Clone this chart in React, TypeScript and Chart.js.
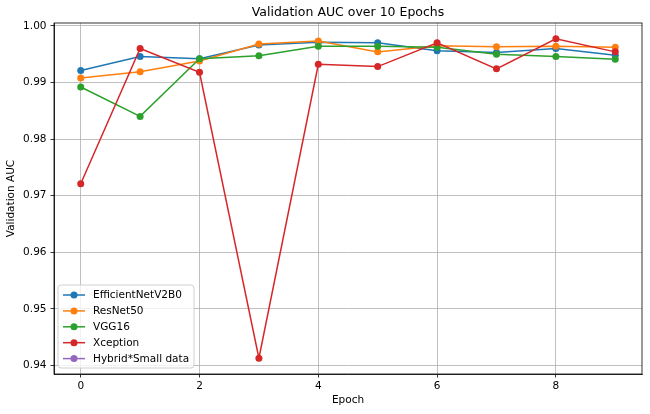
import React, { useRef, useEffect } from 'react';
import { Chart, registerables, Plugin } from 'chart.js';

Chart.register(...registerables);

const epochs = [0, 1, 2, 3, 4, 5, 6, 7, 8, 9];
const efficientNet = [0.9921, 0.9946, 0.9942, 0.9966, 0.9971, 0.997, 0.9956, 0.9953, 0.996, 0.9948];
const resNet = [0.9908, 0.9919, 0.9938, 0.9968, 0.9973, 0.9954, 0.9965, 0.9963, 0.9964, 0.9962];
const vgg = [0.9892, 0.984, 0.9942, 0.9947, 0.9964, 0.9964, 0.9962, 0.995, 0.9946, 0.9941];
const xception = [0.9721, 0.996, 0.9918, 0.9413, 0.9932, 0.9928, 0.997, 0.9924, 0.9977, 0.9954];
const hybrid: number[] = [];

const xTicks = [0, 2, 4, 6, 8];
const yTicks = [0.94, 0.95, 0.96, 0.97, 0.98, 0.99, 1.0];

const seriesNames = ['EfficientNetV2B0', 'ResNet50', 'VGG16', 'Xception', 'Hybrid*Small data'];
const seriesColors = ['#1f77b4', '#ff7f0e', '#2ca02c', '#d62728', '#9467bd'];
const seriesValues = [efficientNet, resNet, vgg, xception, hybrid];

const FONT = '"DejaVu Sans", sans-serif';

// title, spines and the matplotlib-style legend inside the axes
const decorations: Plugin = {
  id: 'decorations',
  afterDraw(chart) {
    const { ctx, chartArea } = chart;
    const { left, right, top, bottom } = chartArea;
    ctx.save();

    ctx.fillStyle = '#000';
    ctx.font = `12.5px ${FONT}`;
    ctx.textAlign = 'center';
    ctx.textBaseline = 'middle';
    ctx.fillText('Validation AUC over 10 Epochs', (left + right) / 2, 13);

    ctx.strokeStyle = '#000';
    ctx.lineWidth = 0.8;
    ctx.strokeRect(left, top, right - left, bottom - top);

    // legend box
    const bx = 58, by = 285, bw = 136, bh = 83, r = 3;
    ctx.beginPath();
    ctx.moveTo(bx + r, by);
    ctx.arcTo(bx + bw, by, bx + bw, by + bh, r);
    ctx.arcTo(bx + bw, by + bh, bx, by + bh, r);
    ctx.arcTo(bx, by + bh, bx, by, r);
    ctx.arcTo(bx, by, bx + bw, by, r);
    ctx.closePath();
    ctx.fillStyle = 'rgba(255,255,255,0.8)';
    ctx.fill();
    ctx.strokeStyle = '#d0d0d0';
    ctx.lineWidth = 1;
    ctx.stroke();

    ctx.font = `10.5px ${FONT}`;
    ctx.textAlign = 'left';
    seriesNames.forEach((name, i) => {
      const y = 295 + i * 15.9;
      ctx.strokeStyle = seriesColors[i];
      ctx.lineWidth = 1.5;
      ctx.beginPath();
      ctx.moveTo(63, y);
      ctx.lineTo(85, y);
      ctx.stroke();
      ctx.fillStyle = seriesColors[i];
      ctx.beginPath();
      ctx.arc(74, y, 3.5, 0, Math.PI * 2);
      ctx.fill();
      ctx.fillStyle = '#000';
      ctx.fillText(name, 93, y + 0.5);
    });
    ctx.restore();
  },
};

export default function App() {
  const chartRef = useRef<HTMLCanvasElement>(null);
  const chartInstanceRef = useRef<Chart | null>(null);

  useEffect(() => {
    document.body.style.margin = '0';
    if (!chartRef.current) return;
    if (chartInstanceRef.current) {
      chartInstanceRef.current.destroy();
    }
    const ctx = chartRef.current.getContext('2d');
    if (!ctx) return;

    const datasets = seriesNames.map((name, i) => ({
      label: name,
      data: seriesValues[i].map((v, j) => ({ x: epochs[j], y: v })),
      borderColor: seriesColors[i],
      backgroundColor: seriesColors[i],
      pointBackgroundColor: seriesColors[i],
      pointBorderColor: seriesColors[i],
      borderWidth: 1.5,
      pointRadius: 3.5,
      pointBorderWidth: 0,
      tension: 0,
      order: 5 - i,
    }));

    const tickFont = { family: FONT, size: 10.5 };

    chartInstanceRef.current = new Chart(ctx, {
      type: 'line',
      data: { datasets },
      plugins: [decorations],
      options: {
        animation: false,
        responsive: false,
        layout: { padding: { top: 23, right: 8, left: 0, bottom: 0 } },
        plugins: {
          legend: { display: false },
          title: { display: false },
          tooltip: { enabled: false },
        },
        scales: {
          x: {
            type: 'linear',
            min: -0.45,
            max: 9.45,
            afterBuildTicks: (scale) => {
              scale.ticks = xTicks.map((v) => ({ value: v }));
            },
            afterFit: (scale) => {
              scale.height = 40;
            },
            ticks: {
              font: tickFont,
              color: '#000',
              padding: 2,
              maxRotation: 0,
              callback: (v) => String(v),
            },
            grid: {
              color: '#b0b0b0',
              lineWidth: 0.8,
              tickLength: 3.5,
              tickColor: '#000',
              tickWidth: 0.8,
            },
            border: { display: true, color: '#000', width: 0.8 },
            title: {
              display: true,
              text: 'Epoch',
              font: tickFont,
              color: '#000',
              padding: { top: 0, bottom: 7 },
            },
          },
          y: {
            type: 'linear',
            min: 0.9385,
            max: 1.0005,
            afterBuildTicks: (scale) => {
              scale.ticks = yTicks.map((v) => ({ value: v }));
            },
            afterFit: (scale) => {
              scale.width = 54;
            },
            ticks: {
              font: tickFont,
              color: '#000',
              padding: 4,
              callback: (v) => Number(v).toFixed(2),
            },
            grid: {
              color: '#b0b0b0',
              lineWidth: 0.8,
              tickLength: 3.5,
              tickColor: '#000',
              tickWidth: 0.8,
            },
            border: { display: true, color: '#000', width: 0.8 },
            title: {
              display: true,
              text: 'Validation AUC',
              font: tickFont,
              color: '#000',
              padding: { top: 5, bottom: 0 },
            },
          },
        },
      },
    });

    return () => {
      if (chartInstanceRef.current) {
        chartInstanceRef.current.destroy();
        chartInstanceRef.current = null;
      }
    };
  }, []);

  return (
    <div style={{ width: 650, height: 414 }}>
      <canvas ref={chartRef} width={650} height={414} />
    </div>
  );
}
